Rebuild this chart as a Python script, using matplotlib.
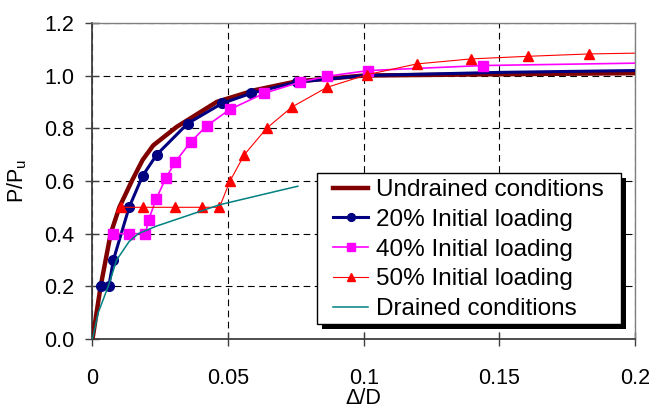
import matplotlib
matplotlib.use('Agg')
import matplotlib.pyplot as plt
import matplotlib.patheffects as pe
from matplotlib.patches import Rectangle

plt.rcParams['font.family'] = ['Liberation Sans', 'DejaVu Sans']
plt.rcParams['mathtext.fontset'] = 'custom'
plt.rcParams['mathtext.rm'] = 'Liberation Sans'
plt.rcParams['mathtext.it'] = 'Liberation Sans'

# ---- data ----
undr_x = [0, 0.0015, 0.003, 0.0067, 0.0099, 0.0145, 0.0185, 0.0224, 0.031, 0.0458, 0.06, 0.0753, 0.1, 0.15, 0.2]
undr_y = [0, 0.1, 0.2, 0.4, 0.5, 0.6, 0.68, 0.735, 0.805, 0.9, 0.945, 0.978, 1.0, 1.005, 1.009]

l20_x = [0.003, 0.006, 0.0077, 0.0135, 0.0185, 0.0237, 0.0351, 0.0477, 0.0586, 0.0753, 0.1, 0.15, 0.2]
l20_y = [0.2, 0.2, 0.30, 0.50, 0.62, 0.70, 0.818, 0.894, 0.933, 0.975, 1.0, 1.012, 1.019]
l20_mk = list(range(10))

l40_x = [0.0074, 0.0135, 0.0195, 0.0207, 0.0235, 0.027, 0.0305, 0.0362, 0.0421, 0.0507,
         0.0634, 0.0765, 0.0863, 0.1017, 0.1438, 0.2]
l40_y = [0.40, 0.40, 0.40, 0.453, 0.532, 0.61, 0.672, 0.748, 0.809, 0.872,
         0.933, 0.975, 0.997, 1.019, 1.038, 1.047]
l40_mk = list(range(15))

l50_x = [0.0106, 0.0185, 0.0304, 0.0403, 0.0468, 0.0507, 0.056, 0.0642, 0.0736, 0.0864,
         0.1011, 0.1195, 0.1394, 0.1604, 0.1831, 0.2]
l50_y = [0.5, 0.5, 0.5, 0.5, 0.5, 0.6, 0.70, 0.80, 0.881, 0.955,
         1.003, 1.044, 1.063, 1.073, 1.082, 1.085]
l50_mk = list(range(15))

drn_x = [0, 0.0021, 0.0058, 0.0089, 0.0135, 0.0169, 0.0239, 0.026, 0.047, 0.0691, 0.0757]
drn_y = [0, 0.1, 0.2, 0.3, 0.37, 0.4, 0.43, 0.437, 0.51, 0.564, 0.58]

xticks = [0, 0.05, 0.1, 0.15, 0.2]
xticklabels = ['0', '0.05', '0.1', '0.15', '0.2']
yticks = [0, 0.2, 0.4, 0.6, 0.8, 1.0, 1.2]

fig = plt.figure(figsize=(6.5, 4.08), dpi=100)
ax = fig.add_axes([0.1423, 0.169, 0.8346, 0.775])

ax.plot(undr_x, undr_y, color='#800000', lw=3.2, label='Undrained conditions', zorder=3)
ax.plot(l20_x, l20_y, color='#000080', lw=2.2, marker='o', ms=7, markevery=l20_mk,
        label='20% Initial loading', zorder=4)
ax.plot(l40_x, l40_y, color='#ff00ff', lw=1.2, marker='s', ms=6.5, markevery=l40_mk,
        label='40% Initial loading', zorder=5)
ax.plot(l50_x, l50_y, color='#ff0000', lw=0.8, marker='^', ms=7, markevery=l50_mk,
        label='50% Initial loading', zorder=6)
ax.plot(drn_x, drn_y, color='#008080', lw=1.1, label='Drained conditions', zorder=7)

ax.set_xlim(0, 0.2)
ax.set_ylim(0, 1.2)
ax.set_xticks(xticks)
ax.set_xticklabels(xticklabels)
ax.set_yticks(yticks)
ax.set_yticklabels([f'{v:.1f}' for v in yticks])
ax.tick_params(axis='both', direction='inout', length=10, width=1, labelsize=15.5, colors='#404040',
               labelcolor='black')
ax.tick_params(axis='x', pad=16)
ax.tick_params(axis='y', pad=8)

ax.grid(True, color='black', linestyle=(0, (6, 4)), linewidth=0.8)
for s in ['left', 'bottom']:
    ax.spines[s].set_color('#404040')
    ax.spines[s].set_linewidth(1.3)
for s in ['top', 'right']:
    ax.spines[s].set_color('#808080')
    ax.spines[s].set_linewidth(1.0)

ax.set_xlabel('Δ/D', fontsize=15.5, labelpad=-1)
ax.set_ylabel(r'$\mathregular{P/P_u}$', fontsize=15.5, labelpad=11)

# legend box drawn by hand (with solid black shadow), legend itself frameless
box = Rectangle((317 / 650, 1 - 324 / 408), 304 / 650, 151 / 408, transform=fig.transFigure,
                facecolor='white', edgecolor='black', linewidth=1.0, zorder=9,
                path_effects=[pe.SimplePatchShadow(offset=(3.5, -3.5), shadow_rgbFace='black', alpha=1),
                              pe.Normal()])
fig.add_artist(box)

leg = fig.legend(loc='upper left', bbox_to_anchor=(333 / 650, 1 - 179 / 408), fontsize=17.5,
                 frameon=False, borderpad=0, labelspacing=0.32, handlelength=1.45,
                 handletextpad=0.3, borderaxespad=0, markerscale=0.8)
leg.set_zorder(10)

fig.savefig('out.png', dpi=100)
